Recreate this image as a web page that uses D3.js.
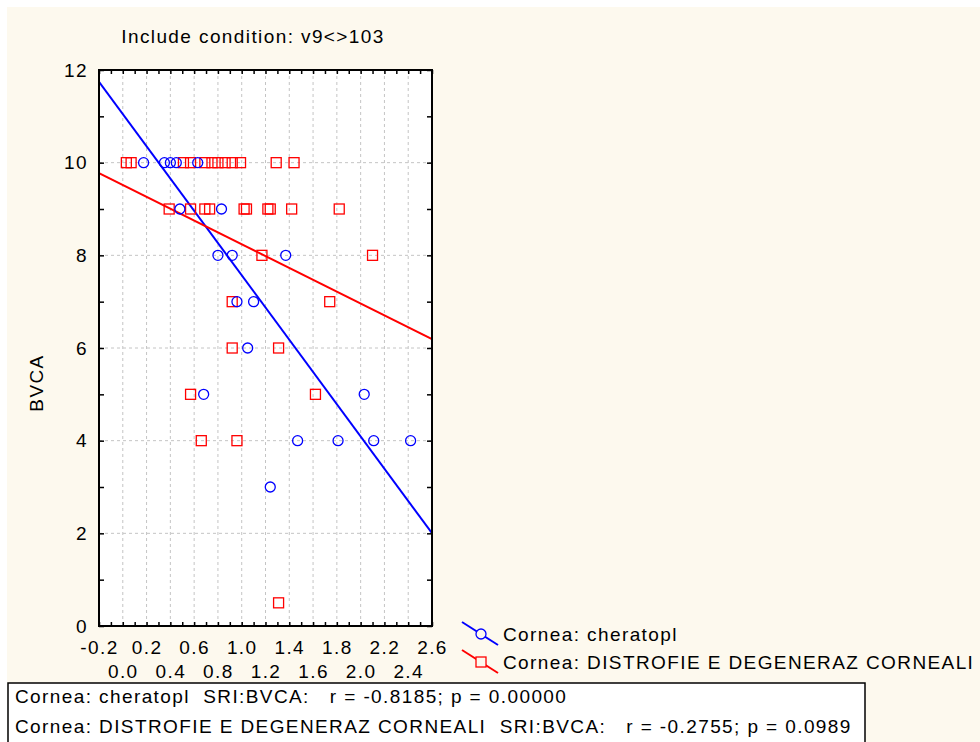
<!DOCTYPE html>
<html>
<head>
<meta charset="utf-8">
<script src="https://cdn.jsdelivr.net/npm/d3@7"></script>
<style>
  body { margin: 0; background: #ffffff; }
  svg text { font-family: "Liberation Sans", Arial, sans-serif; fill: #000; letter-spacing: 1.4px; }
</style>
</head>
<body>
<div id="chart"></div>
<script>
// Cornea: cheratopl (circles)
var cheratoplX = [0.175, 0.35, 0.40, 0.45, 0.63, 0.48, 0.83, 0.80, 0.92, 1.37, 0.96, 1.10, 1.05, 0.68, 2.03, 1.47, 1.81, 2.11, 2.42, 1.24];
var cheratoplY = [10, 10, 10, 10, 10, 9, 9, 8, 8, 8, 7, 7, 6, 5, 5, 4, 4, 4, 4, 3];

// Cornea: DISTROFIE E DEGENERAZ CORNEALI (squares)
var distrofieX = [0.03, 0.07, 0.51, 0.57, 0.69, 0.75, 0.80, 0.86, 0.92, 0.99, 1.29, 1.44,
                  0.39, 0.57, 0.69, 0.73, 1.02, 1.04, 1.22, 1.24, 1.42, 1.82,
                  1.17, 2.10, 0.92, 1.74, 0.92, 1.31, 0.57, 1.62, 0.66, 0.96, 1.31];
var distrofieY = [10, 10, 10, 10, 10, 10, 10, 10, 10, 10, 10, 10,
                  9, 9, 9, 9, 9, 9, 9, 9, 9, 9,
                  8, 8, 7, 7, 6, 6, 5, 5, 4, 4, 0.5];

// fitted lines [intercept, slope]
var cheratoplFit = [11.05, -3.48];
var distrofieFit = [9.52, -1.28];

var xTicksTop = [-0.2, 0.2, 0.6, 1.0, 1.4, 1.8, 2.2, 2.6];
var xTicksBottom = [0.0, 0.4, 0.8, 1.2, 1.6, 2.0, 2.4];
var yTicks = [0, 2, 4, 6, 8, 10, 12];

var seriesNames = ['Cornea: cheratopl', 'Cornea: DISTROFIE E DEGENERAZ CORNEALI'];
var statsLines = [
    'Cornea: cheratopl  SRI:BVCA:   r = -0.8185; p = 0.00000',
    'Cornea: DISTROFIE E DEGENERAZ CORNEALI  SRI:BVCA:   r = -0.2755; p = 0.0989'
];

var chart_width = 980;
var chart_height = 742;
var plot_left = 99, plot_right = 432, plot_top = 70, plot_bottom = 626;
var cream = '#fdf9ee';

var svg = d3.select('#chart')
    .append('svg')
    .attr('width', chart_width)
    .attr('height', chart_height);

// cream panel
svg.append('rect')
    .attr('x', 7).attr('y', 7)
    .attr('width', chart_width - 7).attr('height', chart_height - 7)
    .attr('fill', cream);

var x_scale = d3.scaleLinear().domain([-0.2, 2.6]).range([plot_left, plot_right]);
var y_scale = d3.scaleLinear().domain([0, 12]).range([plot_bottom, plot_top]);

// plot area
svg.append('rect')
    .attr('x', plot_left).attr('y', plot_top)
    .attr('width', plot_right - plot_left).attr('height', plot_bottom - plot_top)
    .attr('fill', '#ffffff');

// grid
var gridX = d3.range(1, 14).map(function(i){ return +(-0.2 + i * 0.2).toFixed(1); });
svg.append('g').selectAll('line')
    .data(gridX).enter().append('line')
    .attr('x1', function(d){ return x_scale(d); })
    .attr('x2', function(d){ return x_scale(d); })
    .attr('y1', plot_top).attr('y2', plot_bottom)
    .attr('stroke', '#c4c4c4').attr('stroke-dasharray', '3,3');
svg.append('g').selectAll('line')
    .data(yTicks.slice(1, -1)).enter().append('line')
    .attr('y1', function(d){ return y_scale(d); })
    .attr('y2', function(d){ return y_scale(d); })
    .attr('x1', plot_left).attr('x2', plot_right)
    .attr('stroke', '#c4c4c4').attr('stroke-dasharray', '3,3');

// clip
svg.append('clipPath').attr('id', 'plot-clip')
    .append('rect')
    .attr('x', plot_left).attr('y', plot_top)
    .attr('width', plot_right - plot_left).attr('height', plot_bottom - plot_top);

var plot = svg.append('g').attr('clip-path', 'url(#plot-clip)');

// fit lines
function fitLine(fit, color) {
    var xs = x_scale.domain();
    plot.append('line')
        .attr('x1', x_scale(xs[0])).attr('y1', y_scale(fit[0] + fit[1] * xs[0]))
        .attr('x2', x_scale(xs[1])).attr('y2', y_scale(fit[0] + fit[1] * xs[1]))
        .attr('stroke', color).attr('stroke-width', 2);
}
fitLine(cheratoplFit, '#0000ff');
fitLine(distrofieFit, '#ff0000');

// points
plot.append('g').selectAll('rect')
    .data(distrofieX).enter().append('rect')
    .attr('x', function(d){ return x_scale(d) - 5; })
    .attr('y', function(d, i){ return y_scale(distrofieY[i]) - 5; })
    .attr('width', 10).attr('height', 10)
    .attr('fill', 'none').attr('stroke', '#ff0000').attr('stroke-width', 1.3);

plot.append('g').selectAll('circle')
    .data(cheratoplX).enter().append('circle')
    .attr('cx', function(d){ return x_scale(d); })
    .attr('cy', function(d, i){ return y_scale(cheratoplY[i]); })
    .attr('r', 5)
    .attr('fill', 'none').attr('stroke', '#0000ff').attr('stroke-width', 1.3);

// minor ticks (inward)
var minorX = d3.range(0, 29).map(function(i){ return +(-0.2 + i * 0.1).toFixed(1); });
var minorY = d3.range(0, 13);
var ax = svg.append('g').attr('class', 'ticks');
ax.append('g').attr('transform', 'translate(0,' + plot_bottom + ')')
    .call(d3.axisBottom(x_scale).tickValues(minorX).tickSize(-4).tickFormat(''));
ax.append('g').attr('transform', 'translate(0,' + plot_top + ')')
    .call(d3.axisTop(x_scale).tickValues(minorX).tickSize(-4).tickFormat(''));
ax.append('g').attr('transform', 'translate(' + plot_left + ',0)')
    .call(d3.axisLeft(y_scale).tickValues(minorY).tickSize(-5).tickFormat(''));
ax.append('g').attr('transform', 'translate(' + plot_right + ',0)')
    .call(d3.axisRight(y_scale).tickValues(minorY).tickSize(-5).tickFormat(''));
ax.selectAll('.domain').remove();
ax.selectAll('line').attr('stroke', '#000').attr('stroke-width', 1.5);

// frame
svg.append('rect')
    .attr('x', plot_left).attr('y', plot_top)
    .attr('width', plot_right - plot_left).attr('height', plot_bottom - plot_top)
    .attr('fill', 'none').attr('stroke', '#000').attr('stroke-width', 2);

// tick labels
var labels = svg.append('g');
labels.append('g').attr('transform', 'translate(0,' + plot_bottom + ')')
    .call(d3.axisBottom(x_scale).tickValues(xTicksTop).tickSize(0).tickPadding(15).tickFormat(d3.format('.1f')));
labels.append('g').attr('transform', 'translate(0,' + plot_bottom + ')')
    .call(d3.axisBottom(x_scale).tickValues(xTicksBottom).tickSize(0).tickPadding(39).tickFormat(d3.format('.1f')));
labels.append('g').attr('transform', 'translate(' + plot_left + ',0)')
    .call(d3.axisLeft(y_scale).tickValues(yTicks).tickSize(0).tickPadding(11).tickFormat(d3.format('d')));
labels.selectAll('.domain').remove();
labels.selectAll('text')
    .attr('font-size', 19)
    .attr('font-family', '"Liberation Sans", Arial, sans-serif')
    .text(function(){ return d3.select(this).text().replace('\u2212', '-'); });

// title and y label
svg.append('text')
    .attr('x', 253).attr('y', 43)
    .attr('text-anchor', 'middle').attr('font-size', 19)
    .text('Include condition: v9<>103');
svg.append('text')
    .attr('transform', 'translate(43,383) rotate(-90)')
    .attr('text-anchor', 'middle').attr('font-size', 19)
    .text('BVCA');

// legend
var legend = svg.append('g');
var legColors = ['#0000ff', '#ff0000'];
seriesNames.forEach(function(name, i){
    var cy = 634 + i * 28;
    legend.append('line')
        .attr('x1', 462).attr('y1', cy - 12).attr('x2', 498).attr('y2', cy + 11)
        .attr('stroke', legColors[i]).attr('stroke-width', 2);
    if (i === 0) {
        legend.append('circle').attr('cx', 481).attr('cy', cy).attr('r', 5)
            .attr('fill', cream).attr('stroke', legColors[i]).attr('stroke-width', 1.3);
    } else {
        legend.append('rect').attr('x', 476).attr('y', cy - 5).attr('width', 10).attr('height', 10)
            .attr('fill', cream).attr('stroke', legColors[i]).attr('stroke-width', 1.3);
    }
    legend.append('text')
        .attr('x', 503).attr('y', cy + 7)
        .attr('font-size', 19)
        .text(name);
});

// stats box
svg.append('rect')
    .attr('x', 8).attr('y', 683)
    .attr('width', 857).attr('height', 70)
    .attr('fill', '#ffffff').attr('stroke', '#000').attr('stroke-width', 1.5);
svg.append('g').selectAll('text')
    .data(statsLines).enter().append('text')
    .attr('x', 15)
    .attr('y', function(d, i){ return 703 + i * 30; })
    .attr('font-size', 19)
    .style('white-space', 'pre')
    .text(function(d){ return d; });
</script>
</body>
</html>
